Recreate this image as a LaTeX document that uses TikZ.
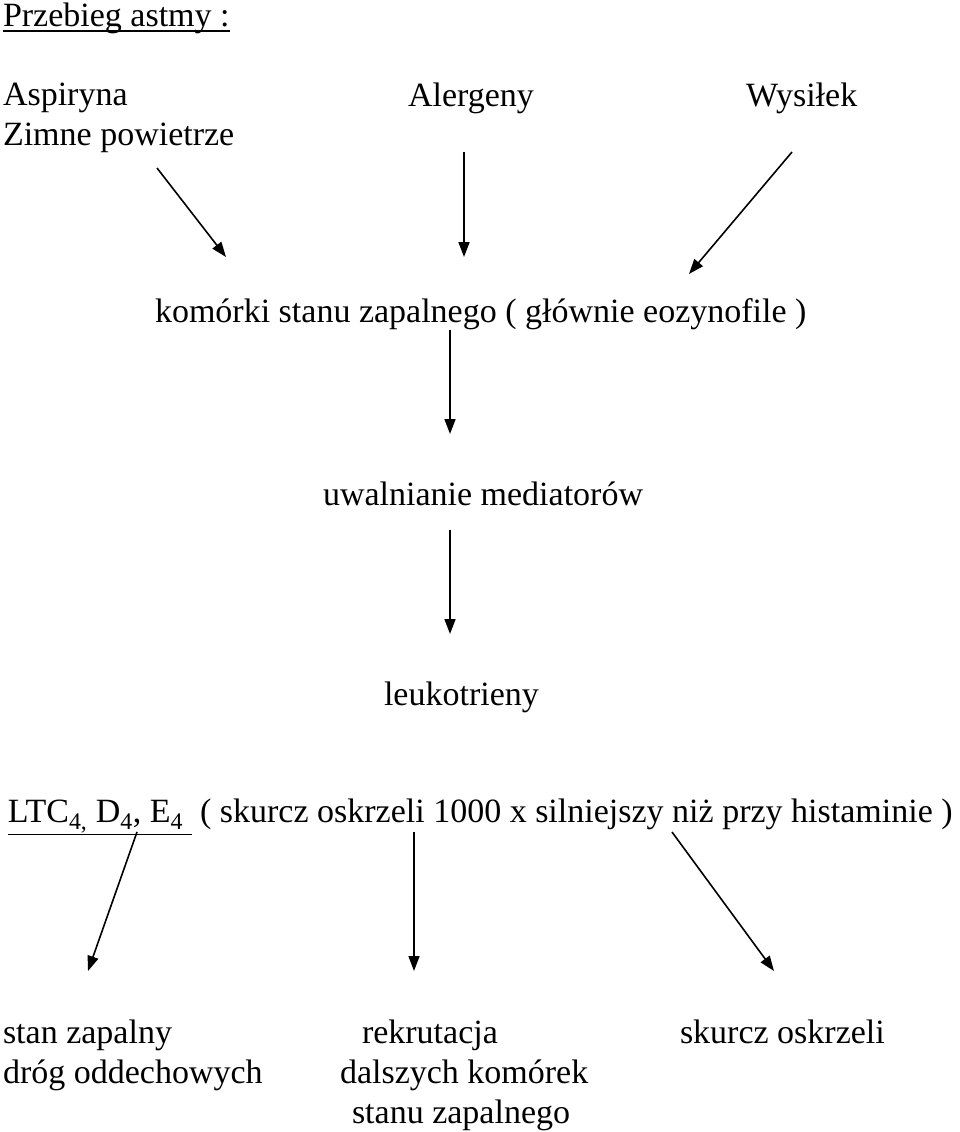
\documentclass[tikz,border=0pt]{standalone}
\usepackage{fontspec}
\setmainfont{Liberation Serif}
\usetikzlibrary{arrows.meta}
\begin{document}
\begin{tikzpicture}[x=1pt,y=1pt,
  txt/.style={anchor=base west,inner sep=0pt,outer sep=0pt,font=\fontsize{34}{40}\selectfont,align=left},
  arr/.style={line width=1.6pt,-{Triangle[length=15pt,width=11pt]}}]
\useasboundingbox (0,0) rectangle (960,-1132);
\node[txt] (title) at (3,-27) {Przebieg astmy :};
\draw[line width=1.2pt] ([yshift=-4pt]title.base west) -- ([yshift=-4pt]title.base east);
\node[txt] (asp) at (3,-145) {Aspiryna\\Zimne powietrze};
\node[txt] (ale) at (408,-106) {Alergeny};
\node[txt] (wys) at (746,-106) {Wysiłek};
\node[txt] (kom) at (155,-322) {komórki stanu zapalnego ( głównie eozynofile )};
\node[txt] (uwa) at (323,-505) {uwalnianie mediatorów};
\node[txt] (leu) at (384,-705) {leukotrieny};
\node[txt] (ltc) at (8,-822) {\underline{LTC\textsubscript{4,} D\textsubscript{4}, E\textsubscript{4} } ( skurcz oskrzeli 1000 x silniejszy niż przy histaminie )};
\node[txt] (sz) at (3,-1083) {stan zapalny\\dróg oddechowych};
\node[txt] (rek) at (340,-1123) {\hspace*{22pt}rekrutacja\\dalszych komórek\\\hspace*{12pt}stanu zapalnego};
\node[txt] (sko) at (680,-1043) {skurcz oskrzeli};
% arrow coordinates
\coordinate (a1s) at (157,-168); \coordinate (a1e) at (226,-257);
\coordinate (a2s) at (464,-152); \coordinate (a2e) at (464,-257);
\coordinate (a3s) at (792,-152); \coordinate (a3e) at (689,-274);
\coordinate (a4s) at (450,-330); \coordinate (a4e) at (450,-434);
\coordinate (a5s) at (450,-530); \coordinate (a5e) at (450,-634);
\coordinate (a6s) at (137,-832); \coordinate (a6e) at (88,-971);
\coordinate (a7s) at (414,-832); \coordinate (a7e) at (414,-971);
\coordinate (a8s) at (672,-832); \coordinate (a8e) at (774,-971);
\draw[arr] (a1s) -- (a1e);
\draw[arr] (a2s) -- (a2e);
\draw[arr] (a3s) -- (a3e);
\draw[arr] (a4s) -- (a4e);
\draw[arr] (a5s) -- (a5e);
\draw[arr] (a6s) -- (a6e);
\draw[arr] (a7s) -- (a7e);
\draw[arr] (a8s) -- (a8e);
\end{tikzpicture}
\end{document}
